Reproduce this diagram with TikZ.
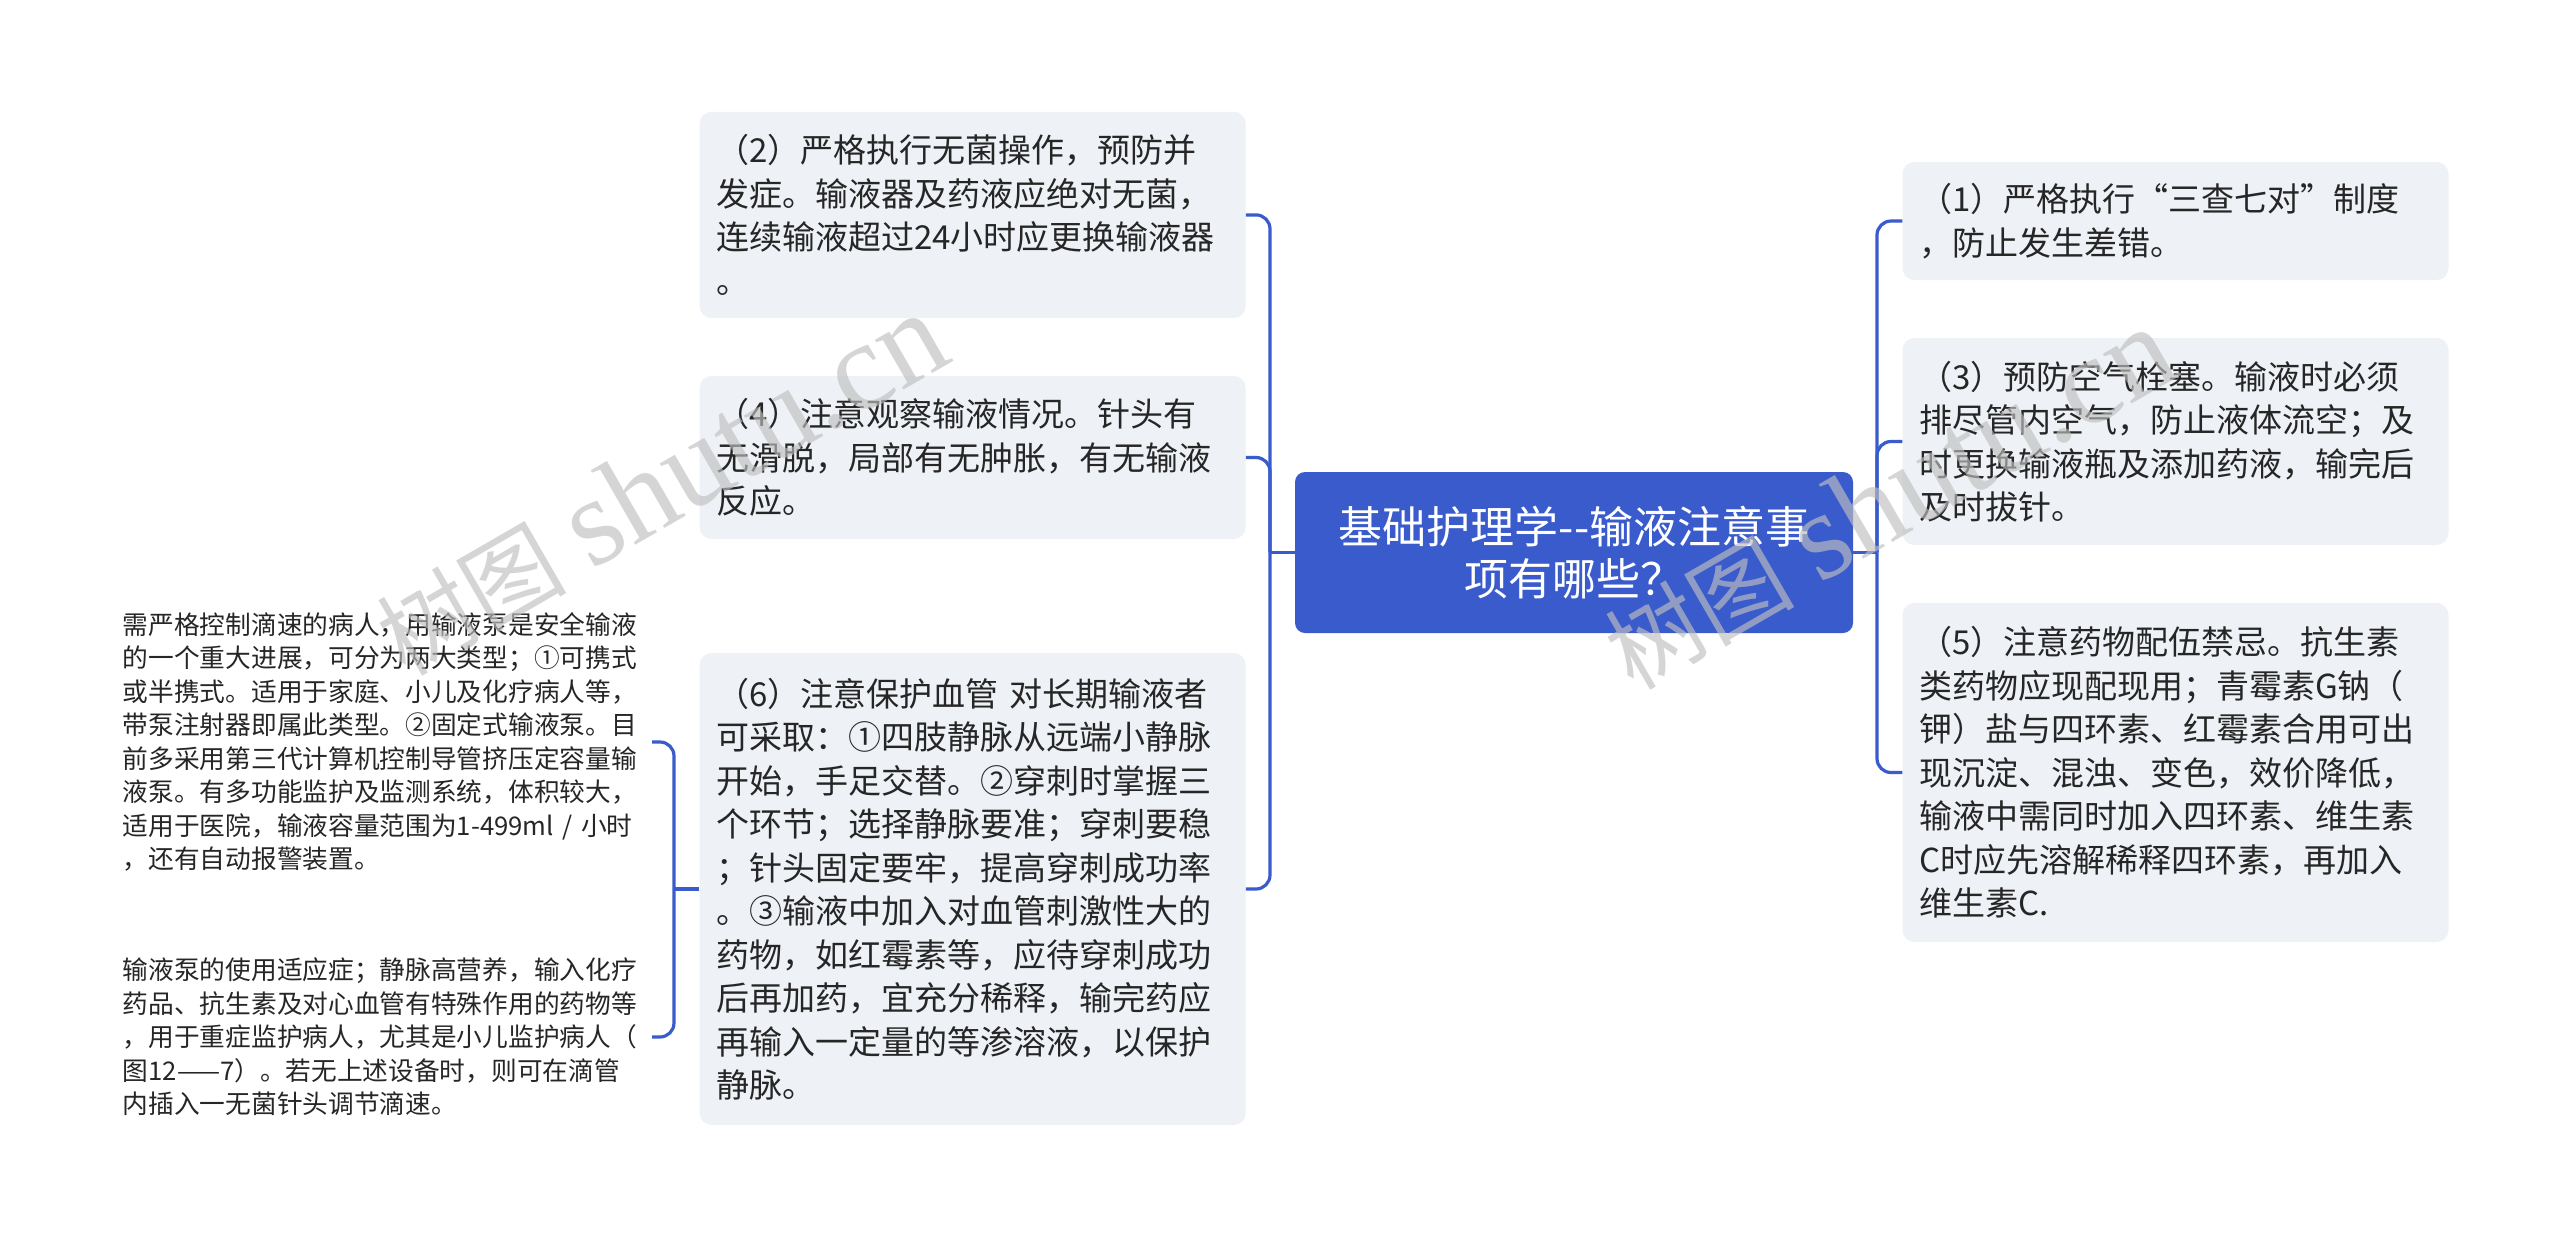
\documentclass[tikz,border=0pt]{standalone}
\usepackage{fontspec}
\setmainfont{Noto Sans CJK SC}
\newfontfamily\wmserif{Liberation Serif}
\newfontfamily\wmcjk{Noto Sans CJK SC}
\definecolor{lineblue}{RGB}{58,91,204}
\definecolor{boxfill}{RGB}{238,241,245}
\definecolor{txt}{RGB}{38,38,38}
\begin{document}
\begin{tikzpicture}[x=1pt,y=-1pt,
  conn/.style={draw=lineblue, line width=3.2pt, rounded corners=14pt},
  leaf/.style={rectangle, rounded corners=12pt, fill=boxfill, text=txt, text width=513pt, inner xsep=16.5pt, inner ysep=0pt, align=left, font=\fontsize{33}{43.5}\selectfont, anchor=center},
  rootbox/.style={rectangle, rounded corners=10pt, fill=lineblue, text=white, minimum width=558pt, minimum height=161pt, align=center, font=\fontsize{44}{52}\selectfont},
  note/.style={text=txt, text width=522pt, inner xsep=7pt, inner ysep=0pt, align=left, font=\fontsize{25.7}{33.5}\selectfont, anchor=east},
  wm/.style={text=black!25, opacity=0.65, rotate=30, inner sep=0pt, anchor=base west}
]
\useasboundingbox (0,0) rectangle (2560,1243);
\fill[white] (0,0) rectangle (2560,1243);

\node[rootbox] (root) at (1574,552.5) {基础护理学-{}-输液注意事\\项有哪些？};

\node[leaf, minimum height=206.3pt] (b2) at (972.65,214.9) {（2）严格执行无菌操作，预防并\\发症。输液器及药液应绝对无菌，\\连续输液超过24小时应更换输液器\\。};
\node[leaf, minimum height=163pt] (b4) at (972.65,457.5) {（4）注意观察输液情况。针头有\\无滑脱，局部有无肿胀，有无输液\\反应。};
\node[leaf, minimum height=472pt] (b6) at (972.65,889) {（6）注意保护血管 对长期输液者\\可采取：①四肢静脉从远端小静脉\\开始，手足交替。②穿刺时掌握三\\个环节；选择静脉要准；穿刺要稳\\；针头固定要牢，提高穿刺成功率\\。③输液中加入对血管刺激性大的\\药物，如红霉素等，应待穿刺成功\\后再加药，宜充分稀释，输完药应\\再输入一定量的等渗溶液，以保护\\静脉。};

\node[leaf, minimum height=118pt] (b1) at (2175.5,221) {（1）严格执行“三查七对”制度\\，防止发生差错。};
\node[leaf, minimum height=207pt] (b3) at (2175.5,441.5) {（3）预防空气栓塞。输液时必须\\排尽管内空气，防止液体流空；及\\时更换输液瓶及添加药液，输完后\\及时拔针。};
\node[leaf, minimum height=339pt] (b5) at (2175.5,772.5) {（5）注意药物配伍禁忌。抗生素\\类药物应现配现用；青霉素G钠（\\钾）盐与四环素、红霉素合用可出\\现沉淀、混浊、变色，效价降低，\\输液中需同时加入四环素、维生素\\C时应先溶解稀释四环素，再加入\\维生素C.};

\node[note] (t1) at (652,742) {需严格控制滴速的病人，用输液泵是安全输液\\的一个重大进展，可分为两大类型；①可携式\\或半携式。适用于家庭、小儿及化疗病人等，\\带泵注射器即属此类型。②固定式输液泵。目\\前多采用第三代计算机控制导管挤压定容量输\\液泵。有多功能监护及监测系统，体积较大，\\适用于医院，输液容量范围为1-499ml / 小时\\，还有自动报警装置。};
\node[note] (t2) at (652,1037) {输液泵的使用适应症；静脉高营养，输入化疗\\药品、抗生素及对心血管有特殊作用的药物等\\，用于重症监护病人，尤其是小儿监护病人（\\图12——7）。若无上述设备时，则可在滴管\\内插入一无菌针头调节滴速。};

\coordinate (LB) at (1270,552.5);
\coordinate (RB) at (1877,552.5);
\coordinate (NB) at (674,889);

\draw[conn] (root.west) -- (LB);
\draw[conn] (LB) -- (LB |- b2.east) -- (b2.east);
\draw[conn] (LB) -- (LB |- b4.east) -- (b4.east);
\draw[conn] (LB) -- (LB |- b6.east) -- (b6.east);

\draw[conn] (root.east) -- (RB);
\draw[conn] (RB) -- (RB |- b1.west) -- (b1.west);
\draw[conn] (RB) -- (RB |- b3.west) -- (b3.west);
\draw[conn] (RB) -- (RB |- b5.west) -- (b5.west);

\draw[conn] (b6.west) -- (NB);
\draw[conn] (NB) -- (NB |- t1.east) -- (t1.east);
\draw[conn] (NB) -- (NB |- t2.east) -- (t2.east);

\node[wm] (wm1) at (405,678) {\fontsize{95}{95}\selectfont\wmcjk 树图\hspace{25pt}\fontsize{125}{125}\selectfont\wmserif shutu.cn};
\node[wm] (wm2) at (1633,692) {\fontsize{95}{95}\selectfont\wmcjk 树图\hspace{25pt}\fontsize{125}{125}\selectfont\wmserif shutu.cn};
\end{tikzpicture}
\end{document}
